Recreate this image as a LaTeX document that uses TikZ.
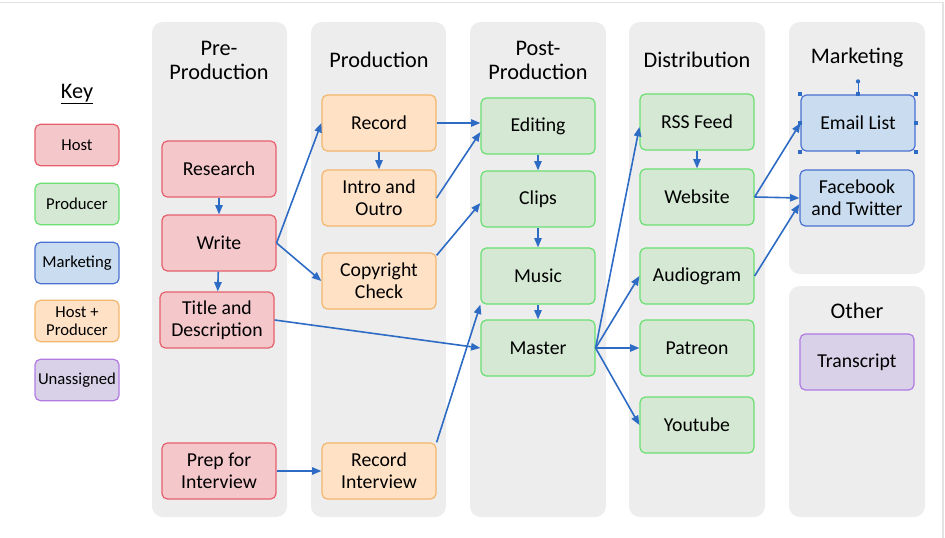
\documentclass[tikz,border=0pt]{standalone}
\usepackage{fontspec}
\setmainfont{Carlito}
\usetikzlibrary{arrows.meta,positioning}
\definecolor{lanegray}{HTML}{EDEDED}
\definecolor{framegray}{HTML}{E2E2E2}
\definecolor{host}{HTML}{F4C7CB}
\definecolor{hostd}{HTML}{E5606B}
\definecolor{prod}{HTML}{D5E8D4}
\definecolor{prodd}{HTML}{6BE071}
\definecolor{mkt}{HTML}{CADDF0}
\definecolor{mktd}{HTML}{4A70D2}
\definecolor{hp}{HTML}{FFE2C6}
\definecolor{hpd}{HTML}{F4B66C}
\definecolor{unas}{HTML}{D8D1E8}
\definecolor{unasd}{HTML}{B07AE2}
\definecolor{flowblue}{HTML}{2E6BC4}
\tikzset{
  % grey swim lane behind each stage
  lane/.style    = {fill=lanegray, draw=none, rounded corners=8pt},
  % task box: pastel fill, stronger stroke of the same hue
  task/.style    = {rectangle, rounded corners=4pt, draw=#1d, fill=#1, line width=0.9pt,
                    align=center, font=\fontsize{14.8}{16.5}\selectfont,
                    minimum width=85.5pt, minimum height=42pt, inner sep=2pt},
  task/.default  = prod,
  keybox/.style  = {rectangle, rounded corners=4pt, draw=#1d, fill=#1, line width=0.9pt,
                    align=center, font=\fontsize{12.5}{13.5}\selectfont,
                    minimum width=63pt, minimum height=31pt, inner sep=1pt},
  hdr/.style     = {align=center, font=\fontsize{16.7}{18}\selectfont},
  flow/.style    = {-{Triangle[length=7pt,width=5.5pt]}, line width=1.2pt, flowblue},
  handle/.style  = {rectangle, fill=flowblue, inner sep=0pt, minimum size=3pt},
}
\begin{document}
\begin{tikzpicture}[x=0.75pt,y=-0.75pt]
\useasboundingbox (0,0) rectangle (945,538);
\draw[framegray, line width=1pt] (0,2.5) -- (943,2.5) -- (943,538);
% lanes
\fill[lane] (152,22) rectangle (287,517);
\fill[lane] (311,22) rectangle (446,517);
\fill[lane] (470,22) rectangle (606,517);
\fill[lane] (629,22) rectangle (765,517);
\fill[lane] (789,22) rectangle (925,274);
\fill[lane] (789,286) rectangle (925,517);
% headers
\node[hdr] (hpre)  at (219,60) {Pre-\\Production};
\node[hdr] (hprod) at (379,60) {Production};
\node[hdr] (hpost) at (538,60) {Post-\\Production};
\node[hdr] (hdist) at (697,60) {Distribution};
\node[hdr] (hmkt)  at (857,58) {Marketing};
\node[hdr] (hoth)  at (857,311) {Other};
% key
\node[hdr] (key) at (77,94) {\underline{Key}};
\node[keybox=host] (khost) at (77,145) {Host};
\node[keybox=prod] (kprod) at (77,204) {Producer};
\node[keybox=mkt]  (kmkt)  at (77,263) {Marketing};
\node[keybox=hp]   (khp)   at (77,321) {Host +\\Producer};
\node[keybox=unas] (kunas) at (77,380) {Unassigned};
% pre-production
\node[task=host] (research) at (219,169) {Research};
\node[task=host] (write)    at (219,243) {Write};
\node[task=host] (title)    at (217,320) {Title and\\Description};
\node[task=host] (prep)     at (219,471) {Prep for\\Interview};
% production
\node[task=hp] (record)    at (379,123) {Record};
\node[task=hp] (intro)     at (379,198) {Intro and\\Outro};
\node[task=hp] (copyright) at (379,281) {Copyright\\Check};
\node[task=hp] (recint)    at (379,471) {Record\\Interview};
% post-production
\node[task] (editing) at (538,126) {Editing};
\node[task] (clips)   at (538,199) {Clips};
\node[task] (music)   at (538,276) {Music};
\node[task] (master)  at (538,348) {Master};
% distribution
\node[task] (rss)       at (697,122) {RSS Feed};
\node[task] (website)   at (697,197) {Website};
\node[task] (audiogram) at (697,276) {Audiogram};
\node[task] (patreon)   at (697,348) {Patreon};
\node[task] (youtube)   at (697,425) {Youtube};
% marketing / other
\node[task=mkt]  (email)      at (858,123) {Email List};
\node[task=mkt]  (facebook)   at (857,198) {Facebook\\and Twitter};
\node[task=unas] (transcript) at (857,362) {Transcript};
% selection handles on the email box
\draw[flowblue, line width=0.6pt] (email.north) -- ++(0,-13) coordinate (rot);
\fill[flowblue] (rot) circle (1.6pt);
\foreach \a in {north west,north,north east,east,south east,south,south west,west}
  \node[handle] at (email.\a) {};
% flows
\draw[flow] (research) -- (write);
\draw[flow] (write) -- (title);
\draw[flow] (write.east) -- (record.west);
\draw[flow] (write.east) -- (copyright.west);
\draw[flow] (title.east) -- (master.west);
\draw[flow] (prep) -- (recint);
\draw[flow] (record.east) -- (record.east -| editing.west);
\draw[flow] (record) -- (intro);
\draw[flow] (intro.east) -- (editing.186);
\draw[flow] (copyright.24) -- (clips.184);
\draw[flow] (recint.north east) -- (music.south west);
\draw[flow] (editing) -- (clips);
\draw[flow] (clips) -- (music);
\draw[flow] (music) -- (master);
\draw[flow] (master.east) -- (rss.185);
\draw[flow] (master.east) -- (audiogram.west);
\draw[flow] (master.east) -- (patreon.west);
\draw[flow] (master.east) -- (youtube.west);
\draw[flow] (rss) -- (website);
\draw[flow] (website.east) -- (email.west);
\draw[flow] (website.east) -- (facebook.west);
\draw[flow] (audiogram.east) -- (facebook.186);
\end{tikzpicture}
\end{document}
